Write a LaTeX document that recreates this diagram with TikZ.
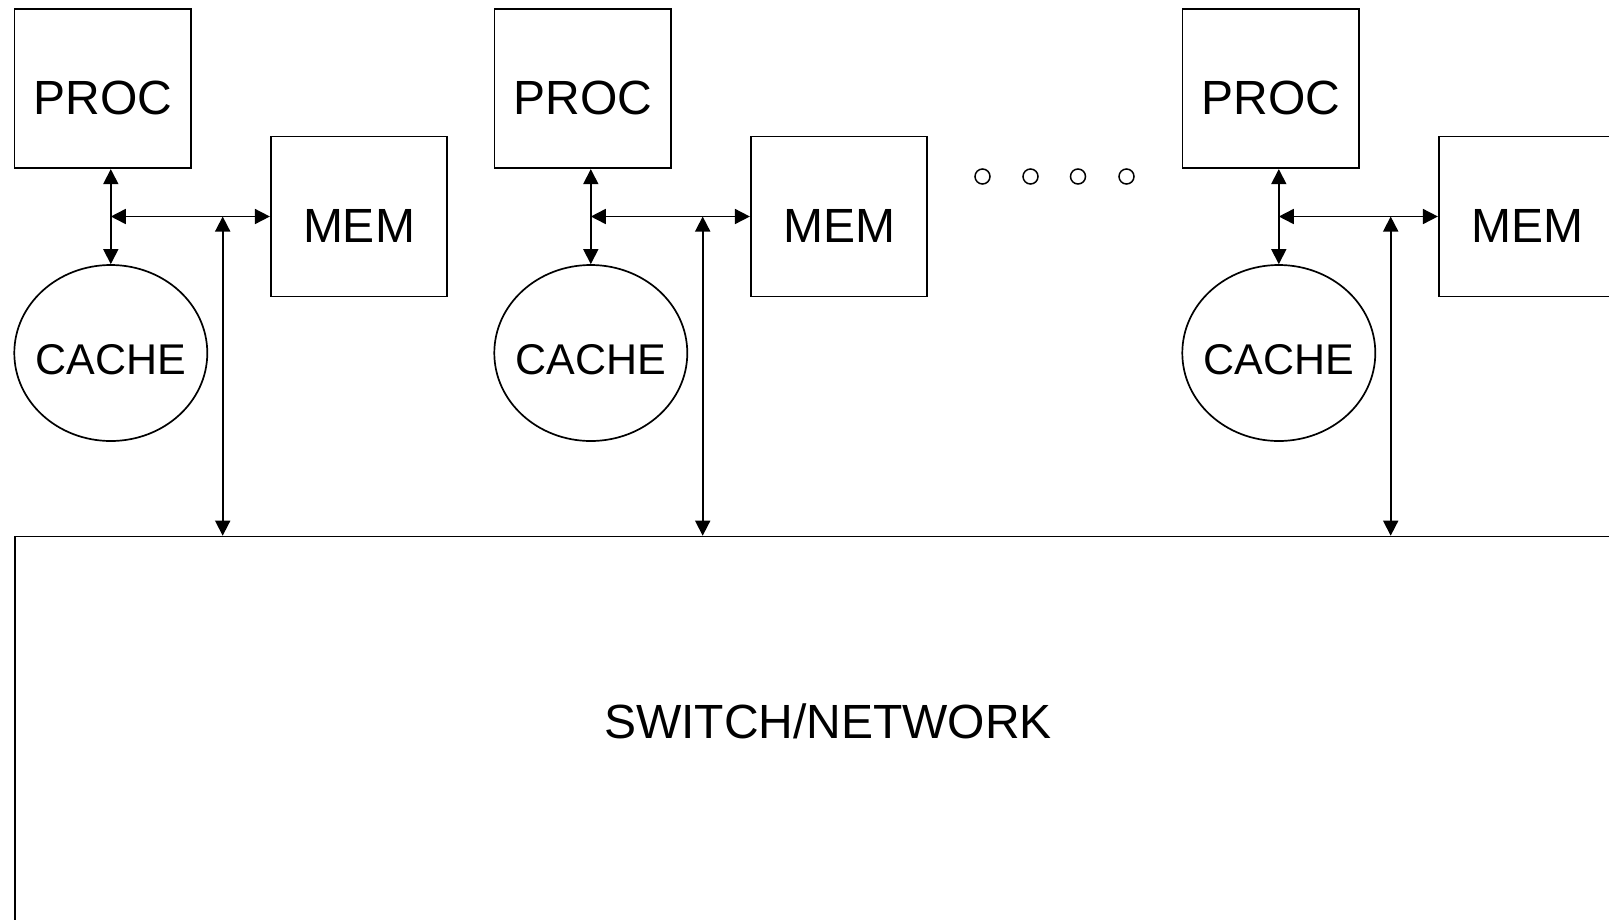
\documentclass[tikz,border=0pt]{standalone}
\usepackage{fontspec}
\setmainfont{Liberation Sans}
\usetikzlibrary{shapes.geometric,arrows.meta}
\begin{document}
\begin{tikzpicture}[x=1pt,y=-1pt,
  lw/.style={line width=1.7pt},
  boxn/.style={draw,lw,inner sep=0pt,minimum width=176.5pt,minimum height=159pt,
    font=\fontsize{48}{48}\selectfont,text height=52pt,text depth=0pt},
  cachen/.style={draw,lw,ellipse,inner xsep=-12pt,inner ysep=0pt,minimum width=193pt,minimum height=176pt,
    font=\fontsize{43}{43}\selectfont,text height=43pt,text depth=0pt},
  biarrow/.style={lw,{Triangle[length=15pt,width=15pt]}-{Triangle[length=15pt,width=15pt]}},
  dotn/.style={draw,line width=1.5pt,circle,inner sep=0pt,minimum size=15pt},
  labeln/.style={font=\fontsize{48}{48}\selectfont,inner sep=0pt}]
\useasboundingbox (0,0) rectangle (1609,919);
\clip (0,0) rectangle (1609,919);
\node[draw,lw,anchor=north west,inner sep=0pt,minimum width=1700pt,minimum height=500pt] (switch) at (14.4,535.7) {};
\node[labeln] (swlabel) at (828,721) {SWITCH/NETWORK};
\foreach \g/\dx in {1/0,2/480,3/1168} {
  \node[boxn] (proc\g) at (102.75+\dx,88.75) {PROC};
  \node[boxn,minimum height=160pt] (mem\g) at (359+\dx,216.5) {MEM};
  \node[cachen] (cache\g) at (110.8+\dx,353) {CACHE};
  \coordinate (j\g) at (cache\g.north |- mem\g.west);
  \coordinate (b\g) at (222.7+\dx,216.5);
  \draw[biarrow] (proc\g.south -| cache\g.north) -- (cache\g.north);
  \draw[biarrow] (j\g) -- (mem\g.west);
  \draw[biarrow] (b\g) -- (b\g |- switch.north);
}
\node[dotn] (d1) at (982.5,176.5) {};
\node[dotn] (d2) at (1030.5,176.5) {};
\node[dotn] (d3) at (1078,176.5) {};
\node[dotn] (d4) at (1126.5,176.5) {};
\end{tikzpicture}
\end{document}
